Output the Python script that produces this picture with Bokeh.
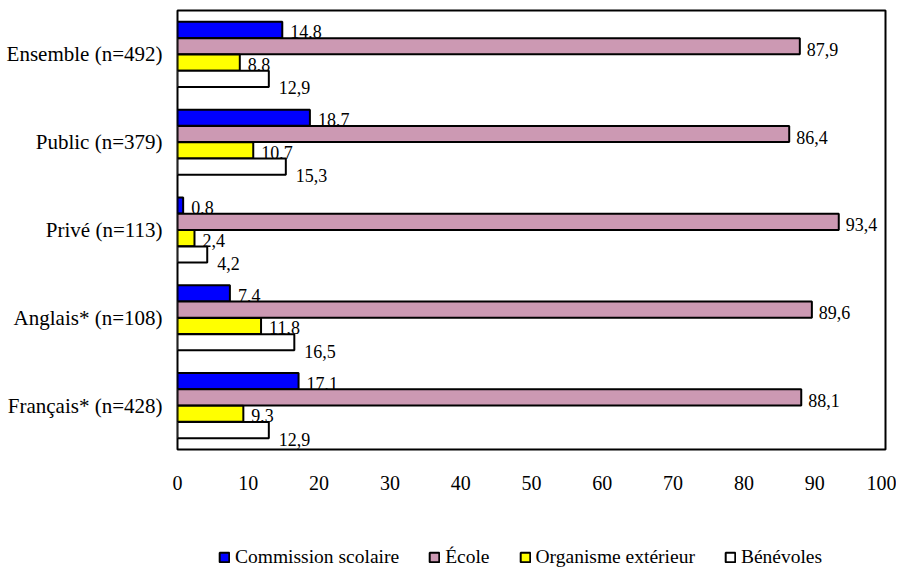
from bokeh.plotting import figure
from bokeh.models import ColumnDataSource, FactorRange, Legend, LegendItem
from bokeh.layouts import column
from bokeh.transform import dodge
from bokeh.embed import file_html
from bokeh.resources import INLINE

categories = ["Ensemble (n=492)", "Public (n=379)", "Privé (n=113)", "Anglais* (n=108)", "Français* (n=428)"]
series_names = ["Commission scolaire", "École", "Organisme extérieur", "Bénévoles"]
commission = [14.8, 18.7, 0.8, 7.4, 17.1]
ecole = [87.9, 86.4, 93.4, 89.6, 88.1]
organisme = [8.8, 10.7, 2.4, 11.8, 9.3]
benevoles = [12.9, 15.3, 4.2, 16.5, 12.9]
x_ticks = [0, 10, 20, 30, 40, 50, 60, 70, 80, 90, 100]

colors = ["#0000FF", "#CC99B3", "#FFFF00", "#FFFFFF"]
offsets = [0.279, 0.093, -0.093, -0.279]
label_dy = [2, 3, 2, 9]
label_dx = [8, 7, 8, 10]
FONT = "Liberation Serif"
W = 896

p = figure(width=W, height=505, output_backend="svg", toolbar_location=None,
           y_range=FactorRange(*list(reversed(categories))), x_range=(0, 100),
           min_border_left=177, min_border_right=11, min_border_top=10, min_border_bottom=56)

src = ColumnDataSource(dict(cat=categories, s0=commission, s1=ecole, s2=organisme, s3=benevoles,
                            l0=[f"{v:.1f}".replace(".", ",") for v in commission],
                            l1=[f"{v:.1f}".replace(".", ",") for v in ecole],
                            l2=[f"{v:.1f}".replace(".", ",") for v in organisme],
                            l3=[f"{v:.1f}".replace(".", ",") for v in benevoles]))

for i in range(4):
    p.hbar(y=dodge("cat", offsets[i], range=p.y_range), right=f"s{i}", left=0, height=0.184,
           source=src, fill_color=colors[i], line_color="black", line_width=2)
    p.text(x=f"s{i}", y=dodge("cat", offsets[i], range=p.y_range), text=f"l{i}", source=src,
           x_offset=label_dx[i], y_offset=label_dy[i], text_baseline="middle", text_align="left",
           text_font=FONT, text_font_size="18px", text_color="black")

p.outline_line_color = "black"
p.outline_line_width = 2
p.grid.visible = False

p.xaxis.ticker = x_ticks
p.xaxis.axis_line_color = None
p.xaxis.major_tick_line_color = None
p.xaxis.minor_tick_line_color = None
p.xaxis.major_label_standoff = 20
p.xaxis.major_label_text_font = FONT
p.xaxis.major_label_text_font_size = "20px"
p.xaxis.major_label_text_color = "black"

p.yaxis.axis_line_color = None
p.yaxis.major_tick_line_color = None
p.yaxis.minor_tick_line_color = None
p.yaxis.major_label_standoff = 9
p.yaxis.major_label_text_font = FONT
p.yaxis.major_label_text_font_size = "21px"
p.yaxis.major_label_text_color = "black"

# legend strip below the chart; proxy glyphs are hidden, only their legend swatches show
lf = figure(width=W, height=64, output_backend="svg", toolbar_location=None,
            x_range=(0, 1), y_range=(0, 1), min_border=0)
lf.axis.visible = False
lf.grid.visible = False
lf.outline_line_color = None
proxy = ColumnDataSource(dict(y=[-10], left=[-10], right=[-9]))
items = []
for i in range(4):
    r = lf.hbar(y="y", right="right", left="left", height=0.1, source=proxy,
                fill_color=colors[i], line_color="black", line_width=2, visible=False)
    items.append(LegendItem(label=series_names[i], renderers=[r]))

legend = Legend(items=items, orientation="horizontal", location=(41, 1),
                glyph_width=12, glyph_height=12, label_standoff=5, spacing=29,
                label_height=20, padding=0, margin=0, border_line_color=None,
                background_fill_alpha=0,
                label_text_font=FONT, label_text_font_size="19.5px", label_text_color="black")
lf.add_layout(legend, "center")

layout = column(p, lf, spacing=0)
open("out.html", "w").write(file_html(layout, INLINE))
